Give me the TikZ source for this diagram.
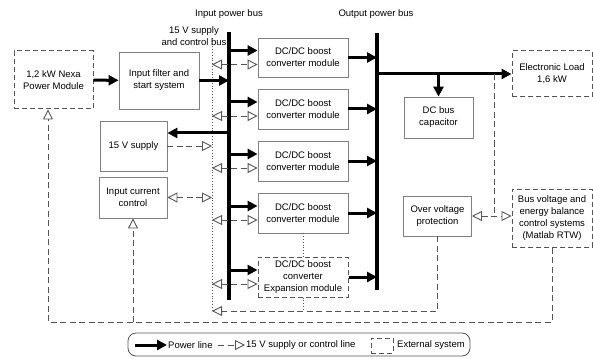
\documentclass[tikz,border=0pt]{standalone}
\usepackage{fontspec}
\setmainfont{Liberation Sans}
\usetikzlibrary{arrows.meta,calc}
\definecolor{boxgray}{HTML}{808080}
\definecolor{dashgray}{HTML}{555555}
\tikzset{
  txt/.style={inner sep=0pt, align=center, font=\fontsize{9.5}{12}\selectfont},
  blk/.style={txt, draw=boxgray, line width=0.8pt},
  ext/.style={txt, draw=dashgray, line width=1pt, dash pattern=on 5pt off 3pt},
  pw/.style={line width=3pt, -{Triangle[length=10pt,width=10pt]}},
  bus/.style={line width=3.3pt},
  ctl/.style={draw=dashgray, line width=0.9pt, dash pattern=on 6pt off 3.5pt},
  cto/.style={ctl, -{Triangle[open,length=10pt,width=10pt]}},
  cbi/.style={ctl, {Triangle[open,length=10pt,width=10pt]}-{Triangle[open,length=10pt,width=10pt]}},
  dotl/.style={draw=dashgray, line width=0.8pt, dotted},
}
\begin{document}
\begin{tikzpicture}[x=1pt,y=-1pt]
\useasboundingbox (0,0) rectangle (593,358);

% buses
\coordinate (ibus) at (229,32);
\coordinate (ibusB) at (229,300);
\coordinate (obus) at (377,33);
\coordinate (obusB) at (377,290);
\coordinate (cbus) at (212,38);
\coordinate (cbusB) at (212,311);
\draw[bus] (ibus) -- (ibusB);
\draw[bus] (obus) -- (obusB);
\draw[dotl] (cbus) -- (cbusB);

% labels
\node[txt] (lin) at (229,14) {Input power bus};
\node[txt] (lout) at (376,14) {Output power bus};
\node[txt] (lctl) at (194,36) {15 V supply\\and control bus};

% blocks
\node[ext, minimum width=79, minimum height=58] (nexa) at (53.5,80) {1,2 kW Nexa\\Power Module};
\node[blk, minimum width=80, minimum height=57] (filt) at (159,80.5) {Input filter and\\start system};
\node[blk, minimum width=67, minimum height=50] (sup) at (133.5,146) {15 V supply};
\node[blk, minimum width=68, minimum height=41] (icc) at (133,197.5) {Input current\\control};

\node[blk, minimum width=90, minimum height=39] (dc1) at (303,57.5) {DC/DC boost\\converter module};
\node[blk, minimum width=90, minimum height=40] (dc2) at (303,109) {DC/DC boost\\converter module};
\node[blk, minimum width=90, minimum height=40] (dc3) at (303,161) {DC/DC boost\\converter module};
\node[blk, minimum width=90, minimum height=40] (dc4) at (303,213) {DC/DC boost\\converter module};
\node[ext, minimum width=90, minimum height=40] (exp) at (303,277) {DC/DC boost\\converter\\Expansion module};

\node[blk, minimum width=69, minimum height=41] (cap) at (438.5,117.5) {DC bus\\capacitor};
\node[blk, minimum width=68, minimum height=40] (ovp) at (437.5,216) {Over voltage\\protection};
\node[ext, minimum width=80, minimum height=46] (load) at (552,74) {Electronic Load\\1,6 kW};
\node[ext, minimum width=80, minimum height=58] (bvc) at (552,218) {Bus voltage and\\energy balance\\control systems\\(Matlab RTW)};

% power connections
\draw[pw] (nexa) -- (filt);
\draw[pw] (filt.east) -- (filt.east -| ibus);
\coordinate (supp) at ($(sup.east)+(0,-13)$);
\draw[pw] (supp -| ibus) -- (supp);
\draw[cto] (sup.east) -- (sup.east -| cbus);
\draw[cbi] (icc.east) -- (icc.east -| cbus);

\foreach \n in {dc1,dc2,dc3,dc4,exp}{
  \coordinate (\n-p) at ($(\n.west)+(0,-7)$);
  \coordinate (\n-c) at ($(\n.west)+(0,7)$);
  \draw[pw] (\n-p -| ibus) -- (\n-p);
  \draw[cbi] (\n-c -| cbus) -- (\n-c);
  \draw[pw] (\n.east) -- (\n.east -| obus);
}
\draw[dotl] (dc4.south) -- (exp.north);
\draw[dotl] (exp.south) -- (exp.south |- cbusB);

\draw[pw] (load.west -| obus) -- (load.west);
\draw[pw] (cap.north |- load.west) -- (cap.north);

% control connections
\coordinate (j) at (494,216);
\draw[ctl] (j |- load.west) -- (j);
\draw[cbi] (ovp.east) -- (ovp.east -| bvc.west);
\draw[cto] (ovp.south) |- (cbusB);
\coordinate (fb) at (48,322);
\draw[cto] (bvc.south) |- (fb) -- (fb |- nexa.south);
\draw[cto] (icc.south |- fb) -- (icc.south);

% legend
\node[draw=dashgray, line width=0.8pt, rounded corners=8pt, minimum width=342, minimum height=23, inner sep=0pt] (legend) at (299,344.5) {};
\coordinate (lg1) at (135,345);
\coordinate (lg2) at (167,345);
\draw[pw] (lg1) -- (lg2);
\node[txt, anchor=west] (lgt1) at (168,345) {Power line};
\coordinate (lg3) at (218,345);
\coordinate (lg4) at (245,345);
\draw[cto] (lg3) -- (lg4);
\node[txt, anchor=west] (lgt2) at (246,345) {15 V supply or control line};
\node[ext, minimum width=22, minimum height=15] (lgbox) at (382,345.5) {};
\node[txt, anchor=west] (lgt3) at (397,345) {External system};
\end{tikzpicture}
\end{document}
